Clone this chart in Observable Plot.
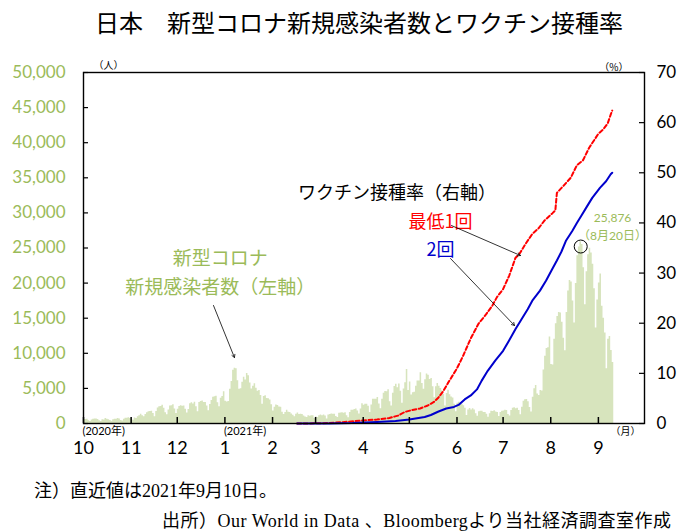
<!DOCTYPE html>
<html><head><meta charset="utf-8">
<script src="https://cdn.jsdelivr.net/npm/d3@7"></script>
<script src="https://cdn.jsdelivr.net/npm/@observablehq/plot@0.6"></script>
<style>
body{margin:0;background:#fff;}
#wrap{position:relative;width:686px;height:532px;overflow:hidden;background:#fff;}
#title{position:absolute;left:95px;top:8px;font-family:"Noto Sans CJK JP",sans-serif;font-size:24px;line-height:28px;white-space:nowrap;color:#000;}
#chart{position:absolute;left:0;top:0;}
.note{position:absolute;font-family:"Liberation Serif","Noto Sans CJK JP",serif;font-size:18px;line-height:20px;white-space:nowrap;color:#000;}
</style></head>
<body>
<div id="wrap">
  <div id="chart"></div>
  <div id="title">日本　新型コロナ新規感染者数とワクチン接種率</div>
  <div class="note" style="left:34px;top:481px;">注）直近値は2021年9月10日。</div>
  <div class="note" style="left:162px;top:511px;letter-spacing:0.5px;">出所）Our World in Data 、Bloombergより当社経済調査室作成</div>
</div>
<script>
// ---- data: daily new cases in Japan (people), from 2020-10-01 ----
const casesStart = "2020-10-01";
const casesOct = [580,560,590,390,290,500,590,630,640,560,390,270,530,500,700,620,540,430,320,550,620,610,720,640,420,370,590,740,760,830,720];
const casesNov = [620,480,770,720,960,1100,1300,1100,970,1290,1540,1660,1710,1730,1440,950,1700,2200,2390,2420,2590,2170,1530,1230,1940,2500,2520,2680,2070,1430];
const casesDec = [2030,2430,2520,2440,2510,2030,1500,2010,2800,2970,2790,3040,2390,1690,2990,3140,3210,2990,2990,2480,1800,2690,3270,3740,3820,3880,2950,2390,3600,3850,4520];
const casesJan = [3160,3060,3140,4880,6000,7570,7880,7790,6090,4870,4940,5870,6600,6200,7130,6800,5760,4920,5320,5650,5030,4590,4710,3990,2760,3850,3960,3550,3530,3340,2670];
const casesFeb = [1790,2320,2620,2560,2360,2300,1600,1280,1560,1870,1620,1550,1360,1160,950,1300,1500,1290,1330,1280,1080,910,850,1100,1050,1120,1100,710];
const casesMar = [920,860,1100,1210,1120,1200,1060,640,1200,1280,1350,1300,1320,980,840,1450,1500,1520,1460,1520,1110,820,1550,1900,1900,2000,2080,1780,1340,2070,2830];
const casesApr = [2600,2760,2760,2470,1580,2650,3450,3450,3470,3700,2770,2090,3450,4310,4570,4530,4800,3110,2500,4320,5270,5590,5110,5620,4580,2890,4900,5790,7700,4690];
const casesMay = [5900,4050,4380,4440,5300,6060,6050,7230,5700,4880,6240,7050,6880,6280,6400,5220,3680,5230,5700,5320,5000,4670,4150,2500,4290,4740,4080,3780,3640,2740,1680];
const casesJun = [2900,3030,2720,2760,2530,2170,1140,1940,2150,1940,2090,1940,1400,1040,1660,1740,1750,1570,1580,1300,900,1390,1730,1720,1800,1630,1570,1000,1560,1750];
const casesJul = [1780,1890,1860,1270,1060,1840,2180,2260,2110,2190,1840,1260,2330,3180,3400,3410,3100,2290,1640,3750,4940,5400,4220,4000,4690,4640,7630,9580,10690,10780,12330];
const casesAug = [8390,8340,12000,14200,15250,15800,15750,14430,12130,10360,15820,18890,20360,20150,17460,14320,19930,23900,25150,25876,25500,22200,16900,21600,24050,24950,24300,22700,19200,13600,17600];
const casesSep = [20000,21300,16700,15000,12900,7800,12000,12400,10400,8700];

// ---- data: vaccination rate (% of population) ----
const firstDoseDates = ["2021-02-17","2021-02-28","2021-03-10","2021-03-20","2021-04-01","2021-04-10","2021-04-18","2021-04-24","2021-04-28","2021-05-03","2021-05-08","2021-05-13","2021-05-17","2021-05-20","2021-05-23","2021-05-26","2021-05-29","2021-06-01","2021-06-05","2021-06-10","2021-06-15","2021-06-20","2021-06-24","2021-06-27","2021-07-01","2021-07-05","2021-07-09","2021-07-12","2021-07-16","2021-07-20","2021-07-24","2021-07-28","2021-08-02","2021-08-04","2021-08-05","2021-08-09","2021-08-14","2021-08-18","2021-08-22","2021-08-26","2021-09-01","2021-09-04","2021-09-07","2021-09-09","2021-09-10"];
const firstDose = [0.0,0.03,0.1,0.3,0.6,0.8,1.1,1.6,2.3,2.7,3.0,3.6,4.3,5.2,6.4,8.0,9.5,11.0,13.5,17.0,19.9,21.8,23.5,25.2,26.8,29.5,33.0,34.0,36.0,37.8,38.9,40.5,41.9,42.5,46.0,47.3,49.0,51.5,52.5,55.0,57.8,58.6,59.8,61.6,62.4];
const secondDoseDates = ["2021-02-17","2021-03-10","2021-03-25","2021-04-10","2021-04-22","2021-05-01","2021-05-11","2021-05-15","2021-05-20","2021-05-25","2021-05-30","2021-06-02","2021-06-06","2021-06-10","2021-06-14","2021-06-17","2021-06-21","2021-06-26","2021-07-01","2021-07-05","2021-07-09","2021-07-13","2021-07-17","2021-07-20","2021-07-25","2021-07-29","2021-08-02","2021-08-05","2021-08-08","2021-08-11","2021-08-15","2021-08-18","2021-08-21","2021-08-24","2021-08-28","2021-09-02","2021-09-06","2021-09-09","2021-09-10"];
const secondDose = [0.0,0.02,0.1,0.3,0.5,0.8,1.3,1.7,2.4,3.0,3.3,3.7,4.8,5.6,6.8,8.5,10.5,12.6,14.5,16.6,18.8,20.8,22.8,24.5,26.5,28.5,30.8,32.5,34.3,36.5,38.4,40.0,41.5,43.0,45.0,47.0,48.3,49.7,50.0];

// ---- axis ticks / labels ----
const monthTickDates = ["2020-10-01","2020-11-01","2020-12-01","2021-01-01","2021-02-01","2021-03-01","2021-04-01","2021-05-01","2021-06-01","2021-07-01","2021-08-01","2021-09-01"];
const monthLabels = ["10","11","12","1","2","3","4","5","6","7","8","9"];
const leftTicks = [0,5000,10000,15000,20000,25000,30000,35000,40000,45000,50000];
const rightTicks = [0,10,20,30,40,50,60,70];
const yearLabelDates = ["2020-10-01","2021-01-01"];
const yearLabels = ["(2020年)","(2021年)"];

// ---- build tables ----
const allCases = [].concat(casesOct,casesNov,casesDec,casesJan,casesFeb,casesMar,casesApr,casesMay,casesJun,casesJul,casesAug,casesSep);
const start = new Date(casesStart);
const caseRows = allCases.map((v,i)=>({date:d3.utcDay.offset(start,i), cases:v}));
// closing row so the last day's step has its full width
const caseStepRows = caseRows.concat([{date:d3.utcDay.offset(start,allCases.length), cases:allCases[allCases.length-1]}]);
const RMAX = 70, LMAX = 50000;
const toLeft = p => p*LMAX/RMAX;
const firstRows = firstDoseDates.map((d,i)=>({date:new Date(d), v:toLeft(firstDose[i])}));
const secondRows = secondDoseDates.map((d,i)=>({date:new Date(d), v:toLeft(secondDose[i])}));
const monthDates = monthTickDates.map(d=>new Date(d));
const monthLabelMap = new Map(monthDates.map((d,i)=>[+d, monthLabels[i]]));
const yearRows = yearLabelDates.map((d,i)=>({date:new Date(d), label:yearLabels[i]}));

// annotations (data coordinates)
const GREEN = "#9bbb59", BAR = "#d7e4bd";
const textNotes = [
  {date:"2021-04-23", v:32760, text:"ワクチン接種率（右軸）", color:"#000", anchor:"middle", size:18},
  {date:"2021-05-21T08:00", v:28630, text:"最低1回", color:"#ff0000", anchor:"end", size:18},
  {date:"2021-05-21T08:00", v:24640, text:"2回", color:"#0000cc", anchor:"end", size:18},
  {date:"2020-12-29", v:23500, text:"新型コロナ", color:GREEN, anchor:"middle", size:19},
  {date:"2020-12-29", v:19370, text:"新規感染者数（左軸）", color:GREEN, anchor:"middle", size:19}
].map(d=>({...d, date:new Date(d.date)}));
const smallNotes = [
  {date:"2021-09-10T05:00", v:29200, text:"25,876"},
  {date:"2021-09-10T05:00", v:26640, text:"（8月20日）"}
].map(d=>({...d, date:new Date(d.date)}));
const arrows = [
  {x1:"2021-05-28T10:00", y1:28200, x2:"2021-07-12T07:00", y2:23930},
  {x1:"2021-05-27T19:00", y1:23500, x2:"2021-07-08T10:00", y2:13960},
  {x1:"2020-12-24T14:00", y1:16810, x2:"2021-01-07T05:00", y2:9400}
].map(d=>({x1:new Date(d.x1), y1:d.y1, x2:new Date(d.x2), y2:d.y2}));
const peakCircle = [{date:new Date("2021-08-20T12:00"), v:25210}];

const FONT = "Lato, 'Noto Sans CJK JP', sans-serif";
const JP = "'Noto Sans CJK JP', sans-serif";

const chart = Plot.plot({
  width: 686, height: 470,
  marginTop: 72, marginBottom: 47, marginLeft: 83, marginRight: 42,
  x: {type:"utc", domain:[new Date("2020-10-01"), new Date("2021-10-01")]},
  y: {domain:[0, LMAX]},
  style: {fontFamily: FONT, background:"transparent", overflow:"visible"},
  marks: [
    Plot.areaY(caseStepRows, {x:"date", y:"cases", curve:"step-after", fill:BAR}),
    Plot.line(firstRows, {x:"date", y:"v", stroke:"#ff0000", strokeWidth:2, strokeDasharray:"4,2.5"}),
    Plot.line(secondRows, {x:"date", y:"v", stroke:"#0000cc", strokeWidth:2}),
    Plot.frame({stroke:"#000", strokeWidth:1.4}),
    Plot.tickY(leftTicks, {y:d=>d, insetRight:556, stroke:"#000", strokeWidth:1.2}),
    Plot.tickY(rightTicks.map(toLeft), {y:d=>d, insetLeft:556, stroke:"#000", strokeWidth:1.2}),
    Plot.tickX(monthDates, {x:d=>d, insetTop:345, stroke:"#000", strokeWidth:1.5}),
    Plot.axisY({anchor:"left", ticks:leftTicks, tickFormat:d3.format(","), tickSize:0, tickPadding:18, fontSize:17, color:GREEN, label:null}),
    Plot.axisY({anchor:"right", ticks:rightTicks.map(toLeft), tickFormat:d=>String(Math.round(d*RMAX/LMAX)), tickSize:0, tickPadding:12, fontSize:17, color:"#000", label:null}),
    Plot.axisX({ticks:monthDates, tickFormat:d=>monthLabelMap.get(+d), tickSize:0, tickPadding:18, fontSize:18, color:"#000", label:null}),
    Plot.text(yearRows, {x:"date", text:"label", frameAnchor:"bottom", dy:11, dx:-1, textAnchor:"start", fontSize:11, fill:"#000", fontFamily:FONT}),
    Plot.text(["（人）"], {frameAnchor:"top-left", dx:10, dy:-11, fontSize:10, fill:"#000", fontFamily:JP}),
    Plot.text(["（%）"], {frameAnchor:"top-right", dx:-16, dy:-9, fontSize:10, fill:"#000", fontFamily:JP}),
    Plot.text(["（月）"], {frameAnchor:"bottom-right", dx:-4, dy:11, fontSize:10, fill:"#000", fontFamily:JP}),
    Plot.text(textNotes, {x:"date", y:"v", text:"text", fill:d=>d.color, textAnchor:d=>d.anchor, fontSize:d=>d.size, fontFamily:JP}),
    Plot.text(smallNotes, {x:"date", y:"v", text:"text", fill:GREEN, fontSize:12, fontFamily:FONT}),
    Plot.arrow(arrows, {x1:"x1", y1:"y1", x2:"x2", y2:"y2", stroke:"#000", strokeWidth:0.8, headLength:6}),
    Plot.dot(peakCircle, {x:"date", y:"v", r:6.5, stroke:"#000", strokeWidth:1, fill:"none"})
  ]
});
document.getElementById("chart").appendChild(chart);
</script>
</body></html>
